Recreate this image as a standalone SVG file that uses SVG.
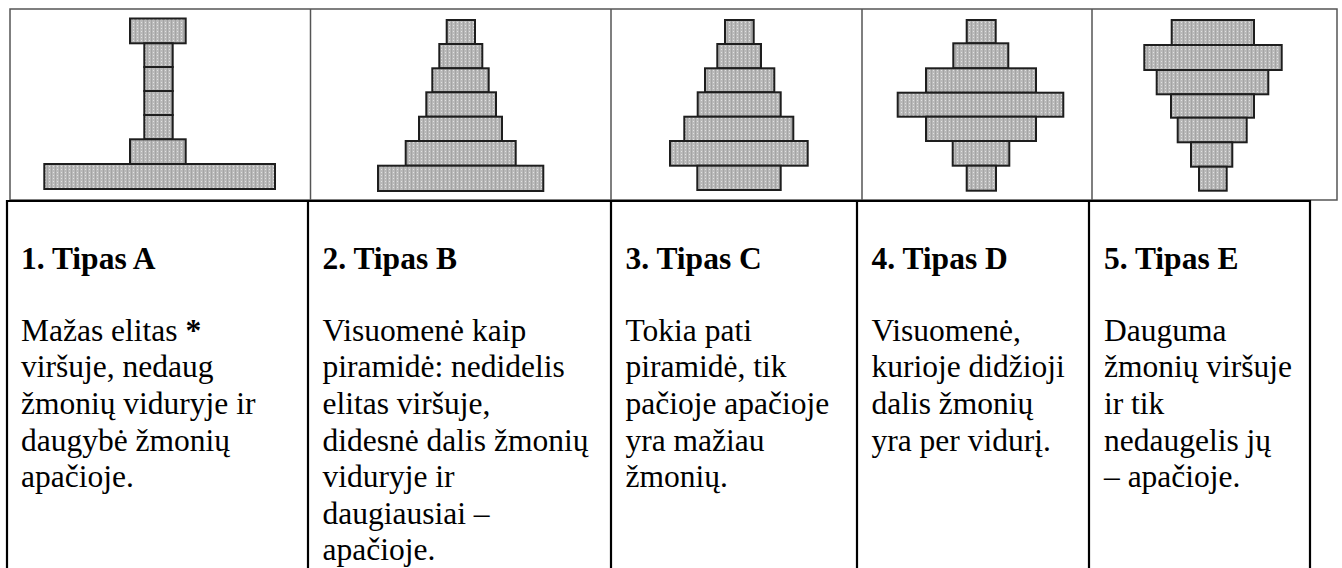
<svg xmlns="http://www.w3.org/2000/svg" width="1342" height="568" viewBox="0 0 1342 568" font-family="'Liberation Serif', 'Times New Roman', serif">
<defs>
<pattern id="dots" width="4" height="3" patternUnits="userSpaceOnUse">
<rect width="4" height="3" fill="#b9b9b9"/>
<rect x="1" y="1" width="1" height="1" fill="#e2e2e2"/>
<rect x="3" y="0" width="1" height="3" fill="#a4a4a4"/>
</pattern>
</defs>
<style>
.blk{fill:url(#dots);stroke:#1e1e1e;stroke-width:2}
.frame{fill:none;stroke:#555;stroke-width:1.5}
.grid{stroke:#000;stroke-width:2.2;fill:none}
.h{font-family:'Liberation Serif','Times New Roman',serif;font-weight:bold;font-size:31.5px;fill:#000}
.b{font-family:'Liberation Serif','Times New Roman',serif;font-size:31.5px;fill:#000}
</style>
<rect width="1342" height="568" fill="#fff"/>
<g id="picture-strip">
<rect class="frame" x="10" y="9" width="1327" height="191"/>
<line class="frame" x1="310.5" y1="9" x2="310.5" y2="200"/>
<line class="frame" x1="611" y1="9" x2="611" y2="200"/>
<line class="frame" x1="862" y1="9" x2="862" y2="200"/>
<line class="frame" x1="1092" y1="9" x2="1092" y2="200"/>
</g>
<g id="shape-A">
<rect class="blk" x="130" y="18.5" width="55.7" height="24.8"/>
<rect class="blk" x="144.3" y="43.3" width="28.4" height="23.7"/>
<rect class="blk" x="144.3" y="67" width="28.4" height="24"/>
<rect class="blk" x="144.3" y="91" width="28.4" height="24"/>
<rect class="blk" x="144.3" y="115" width="28.4" height="24.3"/>
<rect class="blk" x="130" y="139.3" width="55.7" height="24.7"/>
<rect class="blk" x="44.3" y="164" width="230.7" height="25"/>
</g>
<g id="shape-B">
<rect class="blk" x="446.7" y="20" width="28.3" height="24"/>
<rect class="blk" x="439.3" y="44" width="43" height="24.3"/>
<rect class="blk" x="432.3" y="68.3" width="56.4" height="24"/>
<rect class="blk" x="426.3" y="92.3" width="69.7" height="24.4"/>
<rect class="blk" x="419" y="116.7" width="83" height="24.3"/>
<rect class="blk" x="405.7" y="141" width="110" height="24.7"/>
<rect class="blk" x="378" y="165.7" width="165.3" height="25.3"/>
</g>
<g id="shape-C">
<rect class="blk" x="725" y="20" width="28.7" height="24"/>
<rect class="blk" x="717.3" y="44" width="43.7" height="24.3"/>
<rect class="blk" x="705" y="68.3" width="69.3" height="24"/>
<rect class="blk" x="697.7" y="92.3" width="83" height="24.4"/>
<rect class="blk" x="684.3" y="116.7" width="109" height="24.3"/>
<rect class="blk" x="670" y="141" width="137.7" height="24.7"/>
<rect class="blk" x="697.3" y="165.7" width="83.4" height="24.3"/>
</g>
<g id="shape-D">
<rect class="blk" x="966.7" y="20" width="29" height="23.3"/>
<rect class="blk" x="953.3" y="43.3" width="55" height="25"/>
<rect class="blk" x="926" y="68.3" width="110" height="24.4"/>
<rect class="blk" x="897.7" y="92.7" width="165.6" height="24"/>
<rect class="blk" x="926" y="116.7" width="110" height="24.3"/>
<rect class="blk" x="952.7" y="141" width="56.6" height="24.7"/>
<rect class="blk" x="966.7" y="165.7" width="29.3" height="25"/>
</g>
<g id="shape-E">
<rect class="blk" x="1171.7" y="20" width="82.3" height="25"/>
<rect class="blk" x="1144.3" y="45" width="137.4" height="25"/>
<rect class="blk" x="1156.7" y="70" width="111.6" height="24.3"/>
<rect class="blk" x="1171" y="94.3" width="83" height="23.4"/>
<rect class="blk" x="1177.7" y="117.7" width="69" height="24.6"/>
<rect class="blk" x="1191" y="142.3" width="41.3" height="24.4"/>
<rect class="blk" x="1199" y="166.7" width="27.7" height="24"/>
</g>
<g id="table-grid">
<line class="grid" x1="6" y1="201" x2="1311" y2="201"/>
<line class="grid" x1="7" y1="200" x2="7" y2="568"/>
<line class="grid" x1="308" y1="200" x2="308" y2="568"/>
<line class="grid" x1="611" y1="200" x2="611" y2="568"/>
<line class="grid" x1="857" y1="200" x2="857" y2="568"/>
<line class="grid" x1="1089" y1="200" x2="1089" y2="568"/>
<line class="grid" x1="1310" y1="200" x2="1310" y2="568"/>
</g>
<g id="cell-1">
<text class="h" x="21" y="269">1. Tipas A</text>
<text class="b" x="21" y="340.7">Mažas elitas <tspan font-weight="bold">*</tspan></text>
<text class="b" x="21" y="377.3">viršuje, nedaug</text>
<text class="b" x="21" y="413.9">žmonių viduryje ir</text>
<text class="b" x="21" y="450.5">daugybė žmonių</text>
<text class="b" x="21" y="487.1">apačioje.</text>
</g>
<g id="cell-2">
<text class="h" x="322.5" y="269">2. Tipas B</text>
<text class="b" x="322.5" y="340.7">Visuomenė kaip</text>
<text class="b" x="322.5" y="377.3">piramidė: nedidelis</text>
<text class="b" x="322.5" y="413.9">elitas viršuje,</text>
<text class="b" x="322.5" y="450.5">didesnė dalis žmonių</text>
<text class="b" x="322.5" y="487.1">viduryje ir</text>
<text class="b" x="322.5" y="523.7">daugiausiai –</text>
<text class="b" x="322.5" y="560.3">apačioje.</text>
</g>
<g id="cell-3">
<text class="h" x="625.5" y="269">3. Tipas C</text>
<text class="b" x="625.5" y="340.7">Tokia pati</text>
<text class="b" x="625.5" y="377.3">piramidė, tik</text>
<text class="b" x="625.5" y="413.9">pačioje apačioje</text>
<text class="b" x="625.5" y="450.5">yra mažiau</text>
<text class="b" x="625.5" y="487.1">žmonių.</text>
</g>
<g id="cell-4">
<text class="h" x="871.5" y="269">4. Tipas D</text>
<text class="b" x="871.5" y="340.7">Visuomenė,</text>
<text class="b" x="871.5" y="377.3">kurioje didžioji</text>
<text class="b" x="871.5" y="413.9">dalis žmonių</text>
<text class="b" x="871.5" y="450.5">yra per vidurį.</text>
</g>
<g id="cell-5">
<text class="h" x="1104" y="269">5. Tipas E</text>
<text class="b" x="1104" y="340.7">Dauguma</text>
<text class="b" x="1104" y="377.3">žmonių viršuje</text>
<text class="b" x="1104" y="413.9">ir tik</text>
<text class="b" x="1104" y="450.5">nedaugelis jų</text>
<text class="b" x="1104" y="487.1">– apačioje.</text>
</g>
</svg>
